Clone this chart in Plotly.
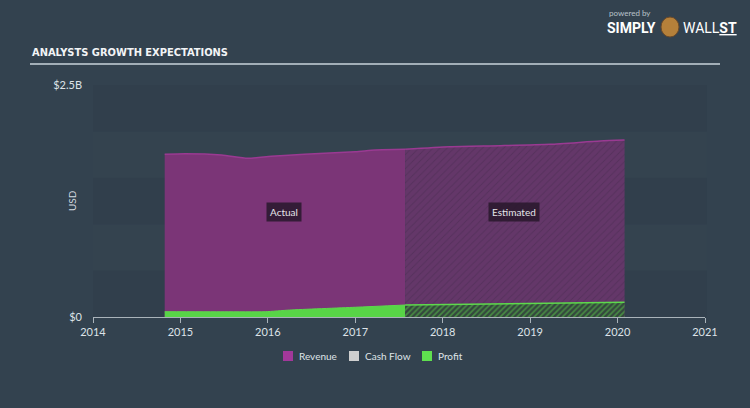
import plotly.graph_objects as go

# ---- data ----
rev_actual_x = [2014.82, 2015.05, 2015.47, 2015.77, 2016.04, 2016.42, 2017.0, 2017.23, 2017.57]
rev_actual_y = [1.753, 1.760, 1.746, 1.710, 1.732, 1.753, 1.781, 1.800, 1.807]
rev_est_x = [2017.57, 2018.08, 2018.66, 2019.23, 2019.80, 2020.08]
rev_est_y = [1.807, 1.835, 1.846, 1.861, 1.897, 1.907]

prof_actual_x = [2014.82, 2015.5, 2015.97, 2016.25, 2017.0, 2017.57]
prof_actual_y = [0.057, 0.056, 0.057, 0.075, 0.105, 0.129]
prof_est_x = [2017.57, 2018.08, 2019.0, 2019.8, 2020.08]
prof_est_y = [0.129, 0.134, 0.143, 0.153, 0.158]

x_ticks = [2014, 2015, 2016, 2017, 2018, 2019, 2020, 2021]
y_ticks = [0, 2.5]
y_tick_text = ["$0", "$2.5B"]
legend_names = ["Revenue", "Cash Flow", "Profit"]
legend_colors = ["#a2389a", "#cfcfcf", "#5fe04f"]

BG = "#33424f"
FONT = "Lato, 'Open Sans', sans-serif"

fig = go.Figure()

fig.add_trace(go.Scatter(x=rev_actual_x, y=rev_actual_y, mode="lines", fill="tozeroy",
                         line=dict(color="#9a3a92", width=1.5, shape="spline", smoothing=0.6),
                         fillcolor="#7b3577", hoverinfo="skip", showlegend=False))
fig.add_trace(go.Scatter(x=rev_est_x, y=rev_est_y, mode="lines", fill="tozeroy",
                         line=dict(color="#9a3a92", width=1.5, shape="spline", smoothing=0.6),
                         fillcolor="#623567",
                         fillpattern=dict(shape="/", fgcolor="#482b50", bgcolor="#643769",
                                          size=5, solidity=0.2),
                         hoverinfo="skip", showlegend=False))
fig.add_trace(go.Scatter(x=prof_actual_x, y=prof_actual_y, mode="lines", fill="tozeroy",
                         line=dict(color="#5ed84d", width=1, shape="spline", smoothing=0.6),
                         fillcolor="#58d547", hoverinfo="skip", showlegend=False))
fig.add_trace(go.Scatter(x=prof_est_x, y=prof_est_y, mode="lines", fill="tozeroy",
                         line=dict(color="#5ed84d", width=1.5),
                         fillcolor="#3d5c44",
                         fillpattern=dict(shape="/", fgcolor="#5ccf4c", bgcolor="#34483d",
                                          size=4, solidity=0.4),
                         hoverinfo="skip", showlegend=False))

shapes = []
# background bands (very subtle)
band_cols = ["#313f4c", "#34434f", "#313f4c", "#34434f", "#313f4c"]
for i, c in enumerate(band_cols):
    shapes.append(dict(type="rect", xref="paper", yref="y", x0=0, x1=1.003,
                       y0=i * 0.5, y1=(i + 1) * 0.5, fillcolor=c, line=dict(width=0), layer="below"))
# title underline
shapes.append(dict(type="line", xref="paper", yref="paper",
                   x0=(30 - 93) / 612, x1=(720 - 93) / 612,
                   y0=(317 - 64) / 232, y1=(317 - 64) / 232,
                   line=dict(color="#c9d3da", width=1.5)))

annotations = []
# title
annotations.append(dict(text="<b>ANALYSTS GROWTH EXPECTATIONS</b>", xref="paper", yref="paper",
                        x=(30 - 93) / 612, y=(317 - 53) / 232, xanchor="left", yanchor="middle",
                        showarrow=False,
                        font=dict(family="'Liberation Sans Narrow', 'DejaVu Sans Condensed', sans-serif",
                                  size=11, color="#f2f4f6")))
# logo
annotations.append(dict(text="powered by", xref="paper", yref="paper",
                        x=(607 - 93) / 612, y=(317 - 13) / 232, xanchor="left", yanchor="middle",
                        showarrow=False, font=dict(family=FONT, size=8, color="#b9c2ca")))
annotations.append(dict(text="<b>SIMPLY</b>", xref="paper", yref="paper",
                        x=(605 - 93) / 612, y=(317 - 28) / 232, xanchor="left", yanchor="middle",
                        showarrow=False, font=dict(family="Roboto, sans-serif", size=14, color="#ffffff")))
annotations.append(dict(text="WALL<b><u>ST</u></b>", xref="paper", yref="paper",
                        x=(681 - 93) / 612, y=(317 - 28) / 232, xanchor="left", yanchor="middle",
                        showarrow=False, font=dict(family="Roboto, sans-serif", size=14, color="#ffffff")))
shapes.append(dict(type="circle", xref="paper", yref="paper",
                   x0=(661 - 93) / 612, x1=(679 - 93) / 612,
                   y0=(317 - 37) / 232, y1=(317 - 17) / 232,
                   fillcolor="#b5803a", line=dict(color="#6b4a2a", width=1)))
# USD label
annotations.append(dict(text="USD", xref="paper", yref="paper", x=(72 - 93) / 612, y=(317 - 201) / 232,
                        textangle=-90, showarrow=False, xanchor="center", yanchor="middle",
                        font=dict(family=FONT, size=10, color="#d5dbe0")))
# Actual / Estimated labels
for txt, xv in [("Actual", 2016.18), ("Estimated", 2018.815)]:
    annotations.append(dict(text=txt, x=xv, y=1.13, xref="x", yref="y", showarrow=False,
                            bgcolor="rgba(40,24,44,0.85)", borderpad=3,
                            font=dict(family=FONT, size=10, color="#e4e4e8")))
# custom legend
leg_x = [283, 349, 422]
for nm, col, lx in zip(legend_names, legend_colors, leg_x):
    shapes.append(dict(type="rect", xref="paper", yref="paper",
                       x0=(lx - 93) / 612, x1=(lx + 10 - 93) / 612,
                       y0=(317 - 361) / 232, y1=(317 - 351) / 232,
                       fillcolor=col, line=dict(width=0)))
    annotations.append(dict(text=nm, xref="paper", yref="paper",
                            x=(lx + 14 - 93) / 612, y=(317 - 356) / 232,
                            xanchor="left", yanchor="middle", showarrow=False,
                            font=dict(family=FONT, size=10, color="#dfe4e8")))

fig.update_layout(
    width=750, height=408,
    margin=dict(l=93, r=45, t=85, b=91),
    paper_bgcolor=BG, plot_bgcolor=BG,
    showlegend=False,
    shapes=shapes, annotations=annotations,
    xaxis=dict(range=[2014, 2021], tickvals=x_ticks, ticktext=[str(v) for v in x_ticks],
               showgrid=False, zeroline=False, showline=True, linecolor="#aab3ba", linewidth=1,
               ticks="outside", ticklen=5, tickcolor="#aab3ba",
               tickfont=dict(family=FONT, size=11, color="#dde3e8"), fixedrange=True),
    yaxis=dict(range=[0, 2.5], tickvals=y_ticks, ticktext=y_tick_text,
               showgrid=False, zeroline=False, showline=False, ticks="",
               ticklabelstandoff=10,
               tickfont=dict(family=FONT, size=11, color="#dde3e8"), fixedrange=True),
)

fig.write_html("out.html")
